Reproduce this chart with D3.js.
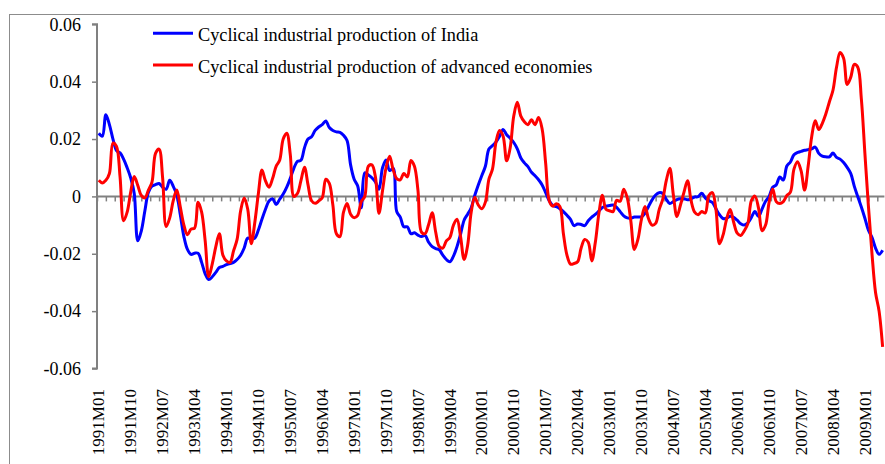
<!DOCTYPE html>
<html>
<head>
<meta charset="utf-8">
<script src="https://cdn.jsdelivr.net/npm/d3@7"></script>
<style>
  body { margin: 0; background: #fff; }
  text { font-family: "Liberation Serif", "Times New Roman", serif; fill: #000; }
</style>
</head>
<body>
<div id="chart"></div>
<script>
// monthly series, 1991M01 .. 2009M06
var india = [
  0.0220, 0.0210, 0.0285, 0.0250, 0.0200, 0.0160, 0.0152, 0.0130, 0.0100, 0.0065,
  0.0010, -0.0155, -0.0120, -0.0050, 0.0015, 0.0036, 0.0041, 0.0045, 0.0032, 0.0025,
  0.0056, 0.0035, 0.0005, -0.0065, -0.0140, -0.0185, -0.0202, -0.0198, -0.0198, -0.0230,
  -0.0270, -0.0290, -0.0280, -0.0265, -0.0248, -0.0244, -0.0238, -0.0234, -0.0230, -0.0220,
  -0.0205, -0.0180, -0.0145, -0.0148, -0.0145, -0.0117, -0.0080, -0.0045, -0.0016, -0.0008,
  -0.0028, -0.0010, 0.0008, 0.0032, 0.0063, 0.0098, 0.0122, 0.0126, 0.0170, 0.0200,
  0.0208, 0.0230, 0.0242, 0.0250, 0.0263, 0.0240, 0.0230, 0.0225, 0.0223, 0.0213,
  0.0195, 0.0110, 0.0060, 0.0036, -0.0040, 0.0082, 0.0075, 0.0065, 0.0050, 0.0025,
  0.0100, 0.0127, 0.0090, 0.0098, -0.0053, -0.0072, -0.0106, -0.0106, -0.0130, -0.0127,
  -0.0135, -0.0140, -0.0136, -0.0160, -0.0175, -0.0182, -0.0186, -0.0205, -0.0220, -0.0228,
  -0.0208, -0.0175, -0.0132, -0.0083, -0.0062, -0.0040, 0.0003, 0.0040, 0.0073, 0.0105,
  0.0165, 0.0177, 0.0190, 0.0210, 0.0233, 0.0215, 0.0203, 0.0188, 0.0166, 0.0134,
  0.0117, 0.0104, 0.0084, 0.0072, 0.0058, 0.0040, 0.0013, -0.0015, -0.0032, -0.0036,
  -0.0043, -0.0053, -0.0066, -0.0080, -0.0102, -0.0096, -0.0098, -0.0102, -0.0085, -0.0072,
  -0.0063, -0.0051, -0.0039, -0.0034, -0.0032, -0.0030, -0.0038, -0.0053, -0.0068, -0.0075,
  -0.0076, -0.0072, -0.0072, -0.0071, -0.0059, -0.0035, -0.0012, 0.0005, 0.0013, 0.0010,
  -0.0010, -0.0025, -0.0018, -0.0011, -0.0008, -0.0008, -0.0012, -0.0008, -0.0002, -0.0001,
  0.0011, -0.0005, -0.0015, -0.0021, -0.0043, -0.0064, -0.0077, -0.0076, -0.0069, -0.0073,
  -0.0083, -0.0095, -0.0100, -0.0092, -0.0073, -0.0053, -0.0070, -0.0044, -0.0017, 0.0000,
  0.0032, 0.0040, 0.0068, 0.0057, 0.0106, 0.0120, 0.0145, 0.0153, 0.0157, 0.0161,
  0.0163, 0.0166, 0.0172, 0.0150, 0.0140, 0.0138, 0.0138, 0.0151, 0.0136, 0.0130,
  0.0118, 0.0101, 0.0080, 0.0036, -0.0001, -0.0037, -0.0076, -0.0118, -0.0143, -0.0180,
  -0.0202, -0.0188
];
var advanced = [
  0.0056, 0.0047, 0.0056, 0.0080, 0.0186, 0.0174, 0.0068, -0.0085, -0.0055, 0.0015,
  0.0069, 0.0038, 0.0003, -0.0005, 0.0022, 0.0050, 0.0150, 0.0165, 0.0065, -0.0105,
  -0.0075, -0.0015, 0.0022, -0.0038, -0.0100, -0.0134, -0.0114, -0.0111, -0.0020, -0.0055,
  -0.0155, -0.0280, -0.0235, -0.0175, -0.0130, -0.0205, -0.0225, -0.0230, -0.0190, -0.0150,
  -0.0050, -0.0006, -0.0045, -0.0165, -0.0090, 0.0010, 0.0092, 0.0054, 0.0032, 0.0062,
  0.0105, 0.0126, 0.0200, 0.0220, 0.0145, 0.0000, 0.0010, 0.0055, 0.0102, 0.0040,
  -0.0015, -0.0024, -0.0016, -0.0005, 0.0060, 0.0045, -0.0030, -0.0130, -0.0140, -0.0055,
  -0.0025, -0.0062, -0.0074, -0.0066, -0.0018, 0.0000, 0.0105, 0.0110, 0.0068, -0.0059,
  0.0020, 0.0100, 0.0140, 0.0093, 0.0062, 0.0058, 0.0080, 0.0068, 0.0125, 0.0105,
  0.0020, -0.0125, -0.0130, -0.0098, -0.0057, -0.0125, -0.0175, -0.0180, -0.0155, -0.0143,
  -0.0100, -0.0080, -0.0140, -0.0220, -0.0170, -0.0055, -0.0003, -0.0030, -0.0043, -0.0020,
  0.0060, 0.0095, 0.0190, 0.0230, 0.0210, 0.0124, 0.0170, 0.0280, 0.0328, 0.0280,
  0.0260, 0.0250, 0.0267, 0.0250, 0.0275, 0.0235, 0.0115, -0.0015, -0.0034, -0.0026,
  -0.0035, -0.0130, -0.0205, -0.0236, -0.0234, -0.0228, -0.0180, -0.0150, -0.0160, -0.0225,
  -0.0160, -0.0060, 0.0004, -0.0045, -0.0050, -0.0053, -0.0014, -0.0017, 0.0025, -0.0005,
  -0.0085, -0.0185, -0.0150, -0.0080, -0.0035, -0.0078, -0.0100, -0.0094, -0.0046, -0.0010,
  0.0055, 0.0098, 0.0005, -0.0070, -0.0030, 0.0015, 0.0055, -0.0015, -0.0055, -0.0064,
  -0.0053, -0.0058, 0.0003, 0.0013, -0.0045, -0.0165, -0.0135, -0.0080, -0.0046, -0.0090,
  -0.0128, -0.0136, -0.0120, -0.0095, -0.0015, 0.0001, -0.0040, -0.0120, -0.0100, -0.0020,
  0.0026, -0.0018, -0.0025, -0.0018, 0.0003, 0.0015, 0.0095, 0.0121, 0.0090, 0.0022,
  0.0105, 0.0208, 0.0264, 0.0233, 0.0255, 0.0288, 0.0330, 0.0370, 0.0450, 0.0502,
  0.0482, 0.0390, 0.0415, 0.0460, 0.0450, 0.0340, 0.0150, -0.0035, -0.0200, -0.0335,
  -0.0400, -0.0525
];
var seriesNames = ["Cyclical industrial production of India",
                   "Cyclical industrial production of advanced economies"];
var seriesColors = ["#0000ff", "#ff0000"];
var yTicks = [-0.06, -0.04, -0.02, 0, 0.02, 0.04, 0.06];
var startYear = 1991, labelStep = 9;

var months = india.map(function(d, i) {
  var y = startYear + Math.floor(i / 12), m = i % 12 + 1;
  return y + "M" + (m < 10 ? "0" + m : m);
});

var width = 885, height = 464;
var plot = { left: 97, right: 884.4, top: 24.3, bottom: 368.5 };

var svg = d3.select("#chart").append("svg")
  .attr("width", width)
  .attr("height", height);

// chart border (right and bottom edge fall outside the picture)
svg.append("rect")
  .attr("x", 9.5).attr("y", 14.5)
  .attr("width", 900).attr("height", 500)
  .attr("fill", "none")
  .attr("stroke", "#8c8c8c")
  .attr("stroke-width", 1);

var x = d3.scaleLinear()
  .domain([0, months.length])
  .range([plot.left, plot.right]);
var y = d3.scaleLinear()
  .domain([-0.06, 0.06])
  .range([plot.bottom, plot.top]);

function fmt(v) {
  if (Math.abs(v) < 1e-9) return "0";
  return (v < 0 ? "-" : "") + Math.abs(v).toFixed(2);
}

// y axis
var yAxis = svg.append("g")
  .attr("transform", "translate(" + plot.left + ",0)")
  .call(d3.axisLeft(y).tickValues(yTicks).tickSize(5).tickPadding(11).tickFormat(fmt));
yAxis.select(".domain").attr("stroke", "#808080").attr("stroke-width", 2)
  .attr("d", "M-5," + y(0.06) + "H0V" + y(-0.06) + "H-5");
yAxis.selectAll(".tick line").attr("stroke", "#808080").attr("stroke-width", 1.5);
yAxis.selectAll(".tick text")
  .style("font-family", "'Liberation Serif', serif")
  .style("font-size", "18px")
  .attr("fill", "#000");

// category axis along zero, minor ticks
var tickVals = d3.range(0, months.length + 0.01, 2.5);
var xAxis = svg.append("g")
  .attr("transform", "translate(0," + y(0) + ")")
  .call(d3.axisBottom(x).tickValues(tickVals).tickSize(5).tickFormat(""));
xAxis.select(".domain").attr("stroke", "#808080").attr("stroke-width", 2)
  .attr("d", "M" + plot.left + ",0H" + plot.right);
xAxis.selectAll(".tick line").attr("stroke", "#808080").attr("stroke-width", 1.5);

// rotated month labels below the plot
var labelIdx = d3.range(0, months.length, labelStep);
svg.append("g").selectAll("text")
  .data(labelIdx)
  .enter()
  .append("text")
    .attr("transform", function(i) {
      return "translate(" + x(i + 0.5) + ",389) rotate(-90)";
    })
    .attr("text-anchor", "end")
    .attr("dy", "0.33em")
    .style("font-size", "17px")
    .text(function(i) { return months[i]; });

// lines
var line = d3.line()
  .x(function(d, i) { return x(i + 0.5); })
  .y(function(d) { return y(d); })
  .curve(d3.curveCatmullRom.alpha(0.5));

[india, advanced].forEach(function(s, k) {
  svg.append("path")
    .datum(s)
    .attr("fill", "none")
    .attr("stroke", seriesColors[k])
    .attr("stroke-width", 3)
    .attr("stroke-linejoin", "round")
    .attr("d", line);
});

// legend
var legend = svg.append("g").selectAll("g")
  .data(seriesNames)
  .enter()
  .append("g")
    .attr("transform", function(d, i) { return "translate(153," + (33.3 + i * 31.7) + ")"; });
legend.append("line")
  .attr("x1", 0).attr("x2", 40)
  .attr("stroke", function(d, i) { return seriesColors[i]; })
  .attr("stroke-width", 3);
legend.append("text")
  .attr("x", 45)
  .attr("dy", "0.42em")
  .style("font-size", "18.3px")
  .text(function(d) { return d; });
</script>
</body>
</html>
